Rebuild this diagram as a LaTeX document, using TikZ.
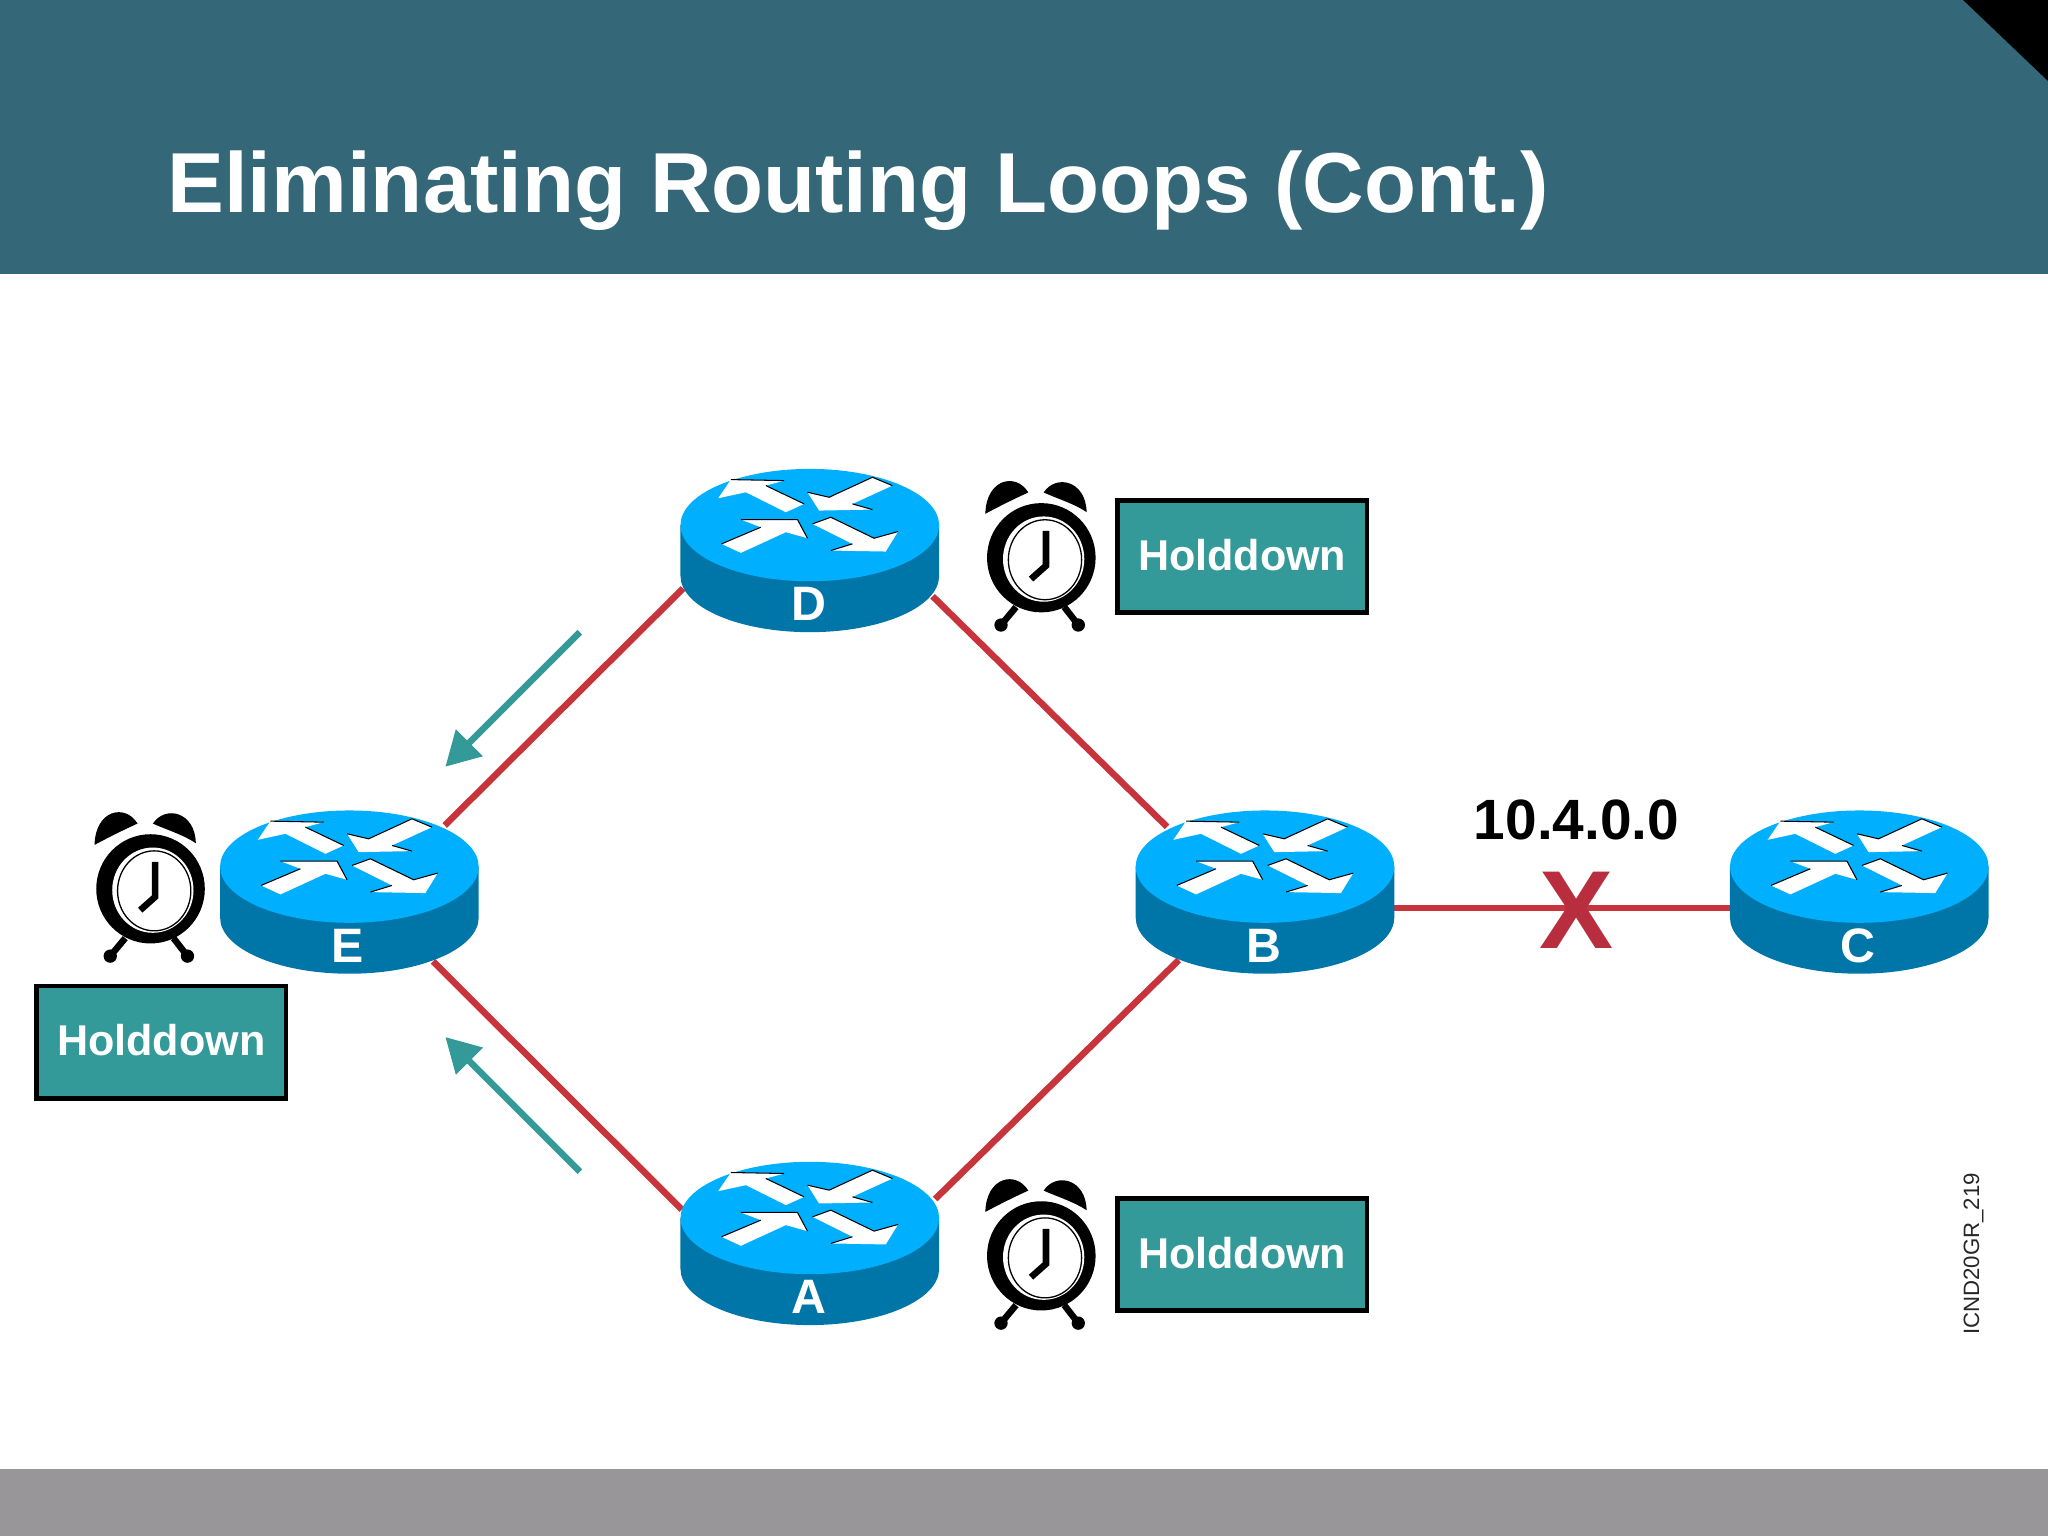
\documentclass[tikz,border=0pt]{standalone}
\usepackage{fontspec}
\setmainfont{Liberation Sans}
\usepackage{tikz}
\usetikzlibrary{arrows.meta,backgrounds,positioning,calc}

\definecolor{headteal}{HTML}{346777}
\definecolor{footgray}{HTML}{989699}
\definecolor{routertop}{HTML}{00B0FF}
\definecolor{routerside}{HTML}{0076A8}
\definecolor{holdteal}{HTML}{339999}
\definecolor{linkred}{HTML}{C8343C}
\definecolor{crossred}{HTML}{B82E3E}

\tikzset{
  link/.style={draw=linkred,line width=5pt},
  update/.style={draw=holdteal,line width=5pt,-{Triangle[length=26pt,width=28pt]}},
  holdbox/.style={draw=black,line width=3.5pt,fill=holdteal,text=white,minimum width=191pt,
    minimum height=86pt,inner sep=0pt,outer sep=0pt,text depth=3pt,font=\fontsize{33}{35}\selectfont\bfseries},
  routerbox/.style={minimum width=198pt,minimum height=124pt,inner sep=0pt,outer sep=0pt},
  routertag/.style={text=white,inner sep=0pt,font=\fontsize{37}{39}\selectfont\bfseries},
  router/.pic={
    \node[routerbox](-router) at (0,0){};
    \fill[routerside] (-99,-19.5) -- (-99,19.5) arc[start angle=180,end angle=0,x radius=99,y radius=43] -- (99,-19.5) -- cycle;
    \fill[routertop] (0,-19.5) ellipse[x radius=99,y radius=43];
    \begin{scope}[scale=.255]
      \fill[white] (-275,-157) -- (-237,-213) -- (-77,-210) -- (-132,-195) -- (-17,-140) -- (-72,-115) -- (-192,-175) -- cycle;
      \fill[white] (248,-195) -- (188,-220) -- (58,-160) -- (-7,-175) -- (28,-120) -- (188,-123) -- (128,-140) -- cycle;
      \fill[white] (-265,-20) -- (-207,7) -- (-72,-55) -- (-7,-37) -- (-37,-93) -- (-207,-93) -- (-147,-70) -- cycle;
      \fill[white] (8,-80) -- (63,-100) -- (193,-37) -- (265,-57) -- (228,3) -- (63,0) -- (128,-20) -- cycle;
      % thin shadow edges
      \draw[black,line width=.8pt] (-237,-213) -- (-77,-210) (-132,-195) -- (-17,-140);
      \draw[black,line width=.8pt] (248,-195) -- (188,-220) -- (58,-160) -- (-7,-175) (188,-123) -- (128,-140);
      \draw[black,line width=.8pt] (-265,-20) -- (-147,-70) (-207,-93) -- (-37,-93) -- (-7,-37);
      \draw[black,line width=.8pt] (8,-80) -- (63,-100) -- (193,-37) -- (265,-57) (63,0) -- (128,-20);
    \end{scope}
    \node[routertag](-tag) at (-1,41){#1};
  },
  alarmclock/.pic={
    \begin{scope}[scale=.255]
      \fill[black] (1,2) ellipse[x radius=163,y radius=164];
      \fill[white] (8,6) ellipse[x radius=122,y radius=128];
      \draw[black,line width=1pt] (12,8) ellipse[x radius=110,y radius=120];
      \draw[black,line width=5pt] (15,-79) -- (15,26) -- (-30,66);
      \fill[black] (-167,-130) .. controls (-165,-235) and (-75,-255) .. (-38,-194) .. controls (-80,-175) and (-130,-150) .. (-167,-130) -- cycle;
      \fill[black] (8,-194) .. controls (45,-250) and (135,-230) .. (137,-135) .. controls (100,-160) and (50,-175) .. (8,-194) -- cycle;
      \draw[black,line width=5pt] (-75,150) -- (-120,204);
      \draw[black,line width=5pt] (70,150) -- (112,204);
      \fill[black] (-120,204) circle[radius=20];
      \fill[black] (112,204) circle[radius=20];
    \end{scope}
  }
}

\begin{document}
\begin{tikzpicture}[x=1pt,y=-1pt]
  \useasboundingbox (0,0) rectangle (1568,1176);

  % slide frame
  \fill[headteal] (0,0) rectangle (1568,210);
  \fill[black] (1503,0) -- (1568,0) -- (1568,62) -- cycle;
  \fill[footgray] (0,1125) rectangle (1568,1176);
  \node[anchor=base west,text=white,inner sep=0pt,font=\fontsize{65.2}{70}\selectfont\bfseries](title) at (128,163){Eliminating Routing Loops (Cont.)};

  \pic (d) at (620,421.5) {router=D};
  \pic (e) at (267.5,683) {router=E};
  \pic (b) at (968.5,683) {router=B};
  \pic (c) at (1423.5,683) {router=C};
  \pic (a) at (620,952) {router=A};

  \pic (dclock) at ($(d-router)+(177,5)$) {alarmclock};
  \pic (eclock) at ($(e-router)+(-152.5,-3)$) {alarmclock};
  \pic (aclock) at ($(a-router)+(177,9)$) {alarmclock};

  \node[holdbox,right=136.5pt of d-router,yshift=-4.5pt](dhold){Holddown};
  \node[holdbox,right=136.5pt of a-router,yshift=-8.5pt](ahold){Holddown};
  \node[holdbox] at($(e-router)+(-144,115)$)(ehold){Holddown};

  \begin{scope}[on background layer]
    \draw[link] ($(e-router)+(73,-51)$) -- ($(d-router)+(-97,29)$);
    \draw[link] ($(d-router)+(94,35)$) -- ($(b-router)+(-75,-50)$);
    \draw[link] ($(e-router)+(64,53)$) -- ($(a-router)+(-98,-26)$);
    \draw[link] ($(a-router)+(96,-34)$) -- ($(b-router)+(-66,52)$);
    \draw[link] ($(b-router)+(99,12)$) -- ($(c-router)+(-99,12)$);
  \end{scope}

  \node[text=crossred,inner sep=0pt,font=\fontsize{85}{87}\selectfont\bfseries](cross) at (1207,697){X};
  \node[inner sep=0pt,font=\fontsize{43.5}{46}\selectfont\bfseries,above=24pt of cross](net){10.4.0.0};

  \coordinate (upstart) at (444,484);
  \coordinate (upend) at (341,587);
  \coordinate (downstart) at (444,897);
  \coordinate (downend) at (341,794);
  \draw[update] (upstart) -- (upend);
  \draw[update] (downstart) -- (downend);

  \node[rotate=90,inner sep=0pt,text=black!85,font=\fontsize{17}{19}\selectfont](figid) at (1511,960){ICND20GR\_219};
\end{tikzpicture}
\end{document}
